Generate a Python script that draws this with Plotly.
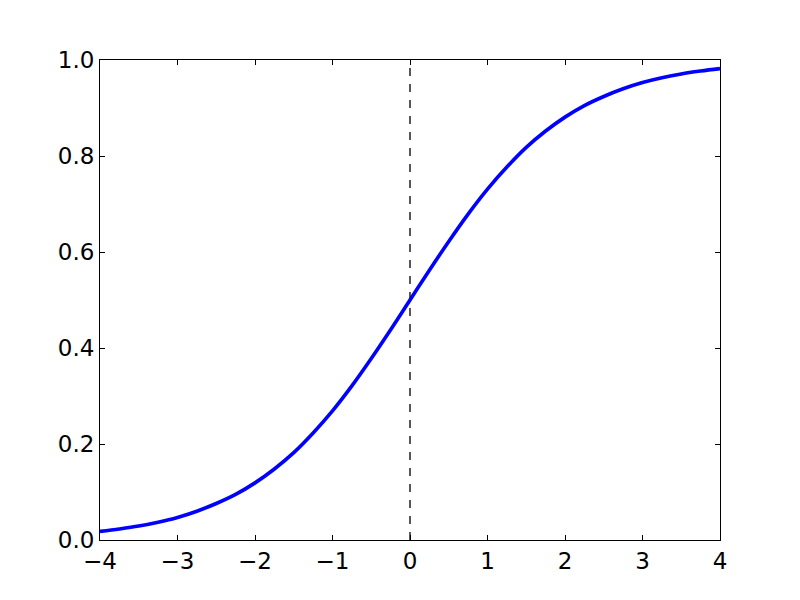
import plotly.graph_objects as go

x_vals = [-4.0, -3.75, -3.5, -3.25, -3.0, -2.75, -2.5, -2.25, -2.0, -1.75, -1.5, -1.25,
          -1.0, -0.75, -0.5, -0.25, 0.0, 0.25, 0.5, 0.75, 1.0, 1.25, 1.5, 1.75,
          2.0, 2.25, 2.5, 2.75, 3.0, 3.25, 3.5, 3.75, 4.0]
y_vals = [0.018, 0.023, 0.029, 0.037, 0.047, 0.060, 0.076, 0.095, 0.119, 0.148, 0.182, 0.223,
          0.269, 0.321, 0.378, 0.438, 0.500, 0.562, 0.622, 0.679, 0.731, 0.777, 0.818, 0.852,
          0.881, 0.905, 0.924, 0.940, 0.953, 0.963, 0.971, 0.977, 0.982]
vline_x = [0.0, 0.0]
vline_y = [0.0, 1.0]
x_ticks = [-4, -3, -2, -1, 0, 1, 2, 3, 4]
y_ticks = [0.0, 0.2, 0.4, 0.6, 0.8, 1.0]

fig = go.Figure()
fig.add_trace(go.Scatter(x=vline_x, y=vline_y, mode="lines",
                         line=dict(color="black", width=1.3, dash="8px,8px"),
                         showlegend=False, hoverinfo="skip"))
fig.add_trace(go.Scatter(x=x_vals, y=y_vals, mode="lines",
                         line=dict(color="#0000ff", width=3.6, shape="spline"),
                         showlegend=False))

axis_common = dict(showgrid=False, zeroline=False, showline=True, linecolor="black",
                   linewidth=1, mirror="allticks", ticks="inside", ticklen=5,
                   tickcolor="black", tickwidth=1,
                   tickfont=dict(family="DejaVu Sans", size=23, color="black"))
fig.update_xaxes(range=[-4, 4], tickvals=x_ticks, **axis_common)
fig.update_yaxes(range=[0, 1], tickvals=y_ticks, tickformat=".1f", **axis_common)
fig.update_layout(width=800, height=600, margin=dict(l=100, r=80, t=60, b=60),
                  plot_bgcolor="white", paper_bgcolor="white")
fig.write_html("out.html", post_script="document.body.style.margin='0';",
               config={"displayModeBar": False})
